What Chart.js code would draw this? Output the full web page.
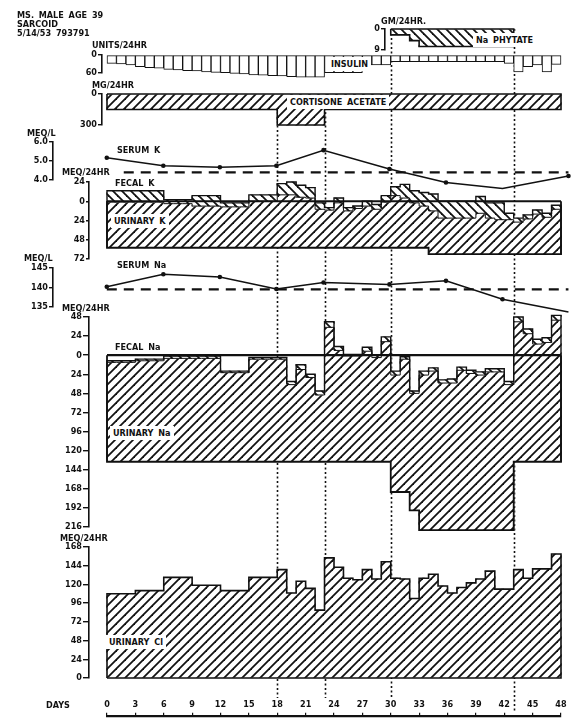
<!DOCTYPE html>
<html>
<head>
<meta charset="utf-8">
<script src="https://cdn.jsdelivr.net/npm/chart.js@4.4.1/dist/chart.umd.min.js"></script>
<style>
  body { margin: 0; background: #fff; }
  #page { position: relative; width: 571px; height: 719px; overflow: hidden; background: #fff; }
  #page canvas { position: absolute; left: 0; }
  .lbl {
    position: absolute; white-space: nowrap; line-height: 1; color: #111;
    font: bold 9px 'Liberation Sans Narrow', 'DejaVu Sans Condensed', sans-serif;
    word-spacing: 2px; transform: translateY(-50%);
  }
  .box { background: #fff; padding: 2px 3px; }
</style>
</head>
<body>
<div id="page"></div>
<script>
// ---- data ----
const DAYS = 48;
const dayTicks = [0, 3, 6, 9, 12, 15, 18, 21, 24, 27, 30, 33, 36, 39, 42, 45, 48];
const eventDays = [18, 23, 30, 43];

// insulin, units/24hr
const insulin = [28, 30, 33, 39, 42, 44, 48, 50, 52, 53, 56, 58, 59, 61, 63, 66, 67, 69, 70, 72, 74, 74, 74,
  59, 59, 59, 59, 33, 33, 33, 22, 22, 22, 22, 22, 22, 22, 22, 22, 22, 22, 22, 28, 56, 39, 33, 56, 31];
// cortisone acetate, mg/24hr
const cortisone = [150, 150, 150, 150, 150, 150, 150, 150, 150, 150, 150, 150, 150, 150, 150, 150, 150, 150,
  300, 300, 300, 300, 300,
  150, 150, 150, 150, 150, 150, 150, 150, 150, 150, 150, 150, 150, 150, 150, 150, 150, 150, 150, 150, 150, 150, 150, 150, 150];
// Na phytate, gm/24hr, days 30-42
const phytateStart = 30;
const phytate = [2.5, 2.5, 5, 7.5, 7.5, 7.5, 7.5, 7.5, 7.5, 7.5, 7.5, 7.5, 7.5];

// serum values, mEq/L
const serumDays = [0, 6, 12, 18, 23, 30, 36, 42, 49];
const serumK = [5.17, 4.75, 4.67, 4.75, 5.57, 4.58, 3.87, 3.55, 4.21];
const serumNa = [140.2, 143.4, 142.7, 139.6, 141.3, 140.8, 141.7, 137.0, 133.7];
const normalK = 4.4;
const normalNa = 139.5;

// potassium balance, mEq/24hr
const kIntake = [58, 58, 58, 58, 58, 58, 58, 58, 58, 58, 58, 58, 58, 58, 58, 58, 58, 58, 58, 58, 58, 58, 58, 58,
  58, 58, 58, 58, 58, 58, 58, 58, 58, 58, 66, 66, 66, 66, 66, 66, 66, 66, 66, 66, 66, 66, 66, 66];
const kUrinary = [57, 57, 57, 57, 57, 57, 55, 55, 55, 52, 52, 52, 51, 51, 51, 58, 58, 58,
  66, 66, 63, 62, 48, 47, 56, 46, 49, 52, 48, 57, 65, 62, 56, 52,
  54, 45, 45, 45, 45, 51, 45, 43, 43, 40, 44, 50, 46, 56];
const kFecal = [14, 14, 14, 14, 14, 14, 5, 5, 5, 13, 13, 13, 5, 5, 5, 8, 8, 8,
  14, 16, 15, 13, 8, 3, 6, 4, 3, 6, 6, 8, 11, 17, 15, 17,
  21, 21, 21, 21, 21, 21, 19, 21, 8, 5, 5, 5, 5, 5];

// sodium balance, mEq/24hr
const naIntake = [134, 134, 134, 134, 134, 134, 134, 134, 134, 134, 134, 134, 134, 134, 134, 134, 134, 134, 134, 134,
  134, 134, 134, 134, 134, 134, 134, 134, 134, 134, 172, 172, 195,
  220, 220, 220, 220, 220, 220, 220, 220, 220, 220, 134, 134, 134, 134, 134];
const naUrinary = [125, 125, 125, 127, 127, 127, 130, 130, 130, 130, 130, 130, 112, 112, 112, 129, 129, 129, 129,
  97, 116, 106, 84, 169, 140, 133, 133, 139, 131, 151, 147, 167, 147, 195, 200, 185, 185, 201, 197, 195, 199, 199, 183,
  176, 161, 148, 150, 178];
const naFecal = [2, 2, 2, 2, 2, 2, 3, 3, 3, 3, 3, 3, 2, 2, 2, 2, 2, 2, 2,
  4, 6, 4, 5, 7, 5, 2, 2, 5, 3, 6, 5, 3, 3, 5, 4, 4, 5, 4, 4, 4, 4, 4, 4,
  6, 6, 6, 6, 6];

// urinary chloride, mEq/24hr
const clUrinary = [108, 108, 108, 112, 112, 112, 129, 129, 129, 119, 119, 119, 112, 112, 112, 129, 129, 129,
  139, 109, 124, 115, 87, 154, 142, 128, 126, 139, 127, 149, 128, 127, 102, 128, 133, 118, 109, 116, 122, 127, 137,
  114, 114, 139, 128, 140, 140, 159];

// ---- layout ----
const INK = '#111';
const FONT = { family: "'Liberation Sans Narrow', 'DejaVu Sans Condensed', sans-serif", size: 9, weight: 'bold' };
const W = 571, H = 719;
const X0 = 107, X48 = 561, RIGHT = 569;
const PPD = (X48 - X0) / DAYS;
const page = document.getElementById('page');

function hatch(back) {
  const s = 9, c = document.createElement('canvas');
  c.width = s; c.height = s;
  const g = c.getContext('2d');
  g.fillStyle = '#fff'; g.fillRect(0, 0, s, s);
  g.strokeStyle = INK; g.lineWidth = 1.8; g.lineCap = 'square';
  const segs = back
    ? [[0, 0, s, s], [-1, s - 1, 1, s + 1], [s - 1, -1, s + 1, 1]]
    : [[0, s, s, 0], [-1, 1, 1, -1], [s - 1, s + 1, s + 1, s - 1]];
  segs.forEach(([a, b, c2, d]) => { g.beginPath(); g.moveTo(a, b); g.lineTo(c2, d); g.stroke(); });
  return g.createPattern(c, 'repeat');
}
const FWD = hatch(false), BACK = hatch(true);

function steps(vals, y0, y1, start = 0) {
  const pts = [];
  if (y0 !== undefined) pts.push({ x: start, y: y0 });
  vals.forEach((v, i) => pts.push({ x: start + i, y: v }));
  pts.push({ x: start + vals.length, y: vals[vals.length - 1] });
  if (y1 !== undefined) pts.push({ x: start + vals.length, y: y1 });
  return pts;
}
const closed = (vals, start = 0) => steps(vals, 0, 0, start).concat([{ x: start, y: 0 }]);

const outline = (data, width, order, dash) => ({
  type: 'line', data, stepped: true, borderColor: INK, borderWidth: width, pointRadius: 0,
  fill: false, order, clip: false, borderDash: dash || []
});
const bars = (data, fill, order, extra) => Object.assign({
  type: 'bar', data, backgroundColor: fill, borderWidth: 0, barThickness: PPD + 0.6,
  grouped: false, order, clip: false
}, extra || {});
const plain = (arr, start = 0) => arr.map((v, i) => ({ x: start + i + 0.5, y: v }));

function makeCanvas(top, height) {
  const cv = document.createElement('canvas');
  cv.width = W; cv.height = height;
  cv.style.top = top + 'px';
  page.appendChild(cv);
  return cv;
}

function panel(cfg) {
  const pad = 14;
  const cv = makeCanvas(cfg.top - pad, cfg.bottom - cfg.top + 2 * pad);
  return new Chart(cv, {
    type: 'bar',
    data: { datasets: cfg.datasets },
    options: {
      responsive: false, animation: false, events: [],
      layout: { padding: { left: 0, right: W - RIGHT, top: pad, bottom: pad } },
      plugins: { legend: { display: false }, tooltip: { enabled: false } },
      scales: {
        x: { type: 'linear', display: false, offset: false,
             min: -(X0 - cfg.axisX) / PPD, max: (RIGHT - X0) / PPD },
        y: {
          type: 'linear', min: cfg.min, max: cfg.max, reverse: !!cfg.reverse,
          afterFit: s => { s.width = cfg.axisX; },
          afterBuildTicks: s => { s.ticks = cfg.ticks.map(v => ({ value: v })); },
          border: { display: true, color: INK, width: 1.6 },
          grid: { drawOnChartArea: false, drawTicks: true, tickLength: cfg.tickLen || 4, color: INK, lineWidth: 1.4 },
          ticks: { color: INK, font: FONT, padding: 1,
                   callback: v => cfg.fmt ? cfg.fmt(v) : String(Math.abs(v)) }
        }
      }
    }
  });
}

function balance(intake, urinary, fecal, fecalFill) {
  const uTop = intake.map((v, i) => v - urinary[i]);
  const fTop = uTop.map((v, i) => v - fecal[i]);
  return [
    outline([{ x: 0, y: 0 }, { x: DAYS, y: 0 }], 2.2, 0),
    outline(steps(fTop, intake[0], intake[DAYS - 1]), 1.4, 1),
    outline(steps(uTop), 1, 2),
    outline(steps(intake, 0, 0), 1.8, 3),
    bars(intake.map((v, i) => ({ x: i + 0.5, y: [fTop[i], uTop[i]] })), fecalFill, 4),
    bars(intake.map((v, i) => ({ x: i + 0.5, y: [uTop[i], v] })), FWD, 5)
  ];
}

// dotted event lines, behind everything
const EVENT_SPAN = { 18: [94, 698], 23: [94, 698], 30: [29, 698], 43: [29, 713] };
new Chart(makeCanvas(0, H), {
  type: 'line',
  data: { datasets: [] },
  options: {
    responsive: false, animation: false, events: [],
    layout: { padding: 0 },
    plugins: { legend: { display: false }, tooltip: { enabled: false } },
    scales: {
      x: { type: 'linear', display: false, min: -X0 / PPD, max: (W - X0) / PPD },
      y: { display: false, min: 0, max: 1 }
    }
  },
  plugins: [{
    id: 'eventLines',
    afterDraw(chart) {
      const { ctx, scales: { x } } = chart;
      ctx.save();
      ctx.strokeStyle = INK; ctx.lineWidth = 1.6; ctx.setLineDash([2, 2.5]);
      eventDays.forEach(d => {
        const px = Math.round(x.getPixelForValue(d)) + 0.5;
        const [t, b] = EVENT_SPAN[d];
        ctx.beginPath(); ctx.moveTo(px, t); ctx.lineTo(px, b); ctx.stroke();
      });
      ctx.restore();
    }
  }]
});

// insulin
panel({
  top: 55, bottom: 73, axisX: 102, min: 0, max: 60, reverse: true, ticks: [0, 60],
  datasets: [bars(plain(insulin), '#fff', 1,
    { borderWidth: 1, borderColor: INK, borderSkipped: false, barThickness: PPD })]
});

// cortisone acetate
panel({
  top: 94, bottom: 125, axisX: 102, min: 0, max: 300, reverse: true, ticks: [0, 300],
  datasets: [outline(closed(cortisone), 1.6, 0), bars(plain(cortisone), FWD, 1)]
});

// Na phytate
panel({
  top: 29, bottom: 50, axisX: 385, min: 0, max: 9, reverse: true, ticks: [0, 9],
  datasets: [outline(closed(phytate, phytateStart), 1.6, 0), bars(plain(phytate, phytateStart), BACK, 1)]
});

// serum K
panel({
  top: 142, bottom: 180, axisX: 53, min: 4, max: 6, ticks: [4, 5, 6], fmt: v => v.toFixed(1),
  datasets: [
    { type: 'line', data: serumDays.map((d, i) => ({ x: d, y: serumK[i] })), borderColor: INK, borderWidth: 1.5,
      pointRadius: 2.3, pointBackgroundColor: INK, pointBorderWidth: 0, clip: false, order: 0 },
    { type: 'line', data: [{ x: 1.8, y: normalK }, { x: 49, y: normalK }], borderColor: INK, borderWidth: 2.2,
      borderDash: [10, 7], pointRadius: 0, clip: false, order: 1 }
  ]
});

// K balance
panel({
  top: 182, bottom: 259, axisX: 89, min: -24, max: 72, reverse: true, ticks: [-24, 0, 24, 48, 72], tickLen: 3,
  datasets: balance(kIntake, kUrinary, kFecal, BACK)
});

// serum Na
panel({
  top: 268, bottom: 307, axisX: 53, min: 135, max: 145, ticks: [135, 140, 145],
  datasets: [
    { type: 'line', data: serumDays.map((d, i) => ({ x: d, y: serumNa[i] })), borderColor: INK, borderWidth: 1.5,
      pointRadius: 2.3, pointBackgroundColor: INK, pointBorderWidth: 0, clip: false, order: 0 },
    { type: 'line', data: [{ x: 0, y: normalNa }, { x: 49, y: normalNa }], borderColor: INK, borderWidth: 2.2,
      borderDash: [10, 7], pointRadius: 0, clip: false, order: 1 }
  ]
});

// Na balance
panel({
  top: 317, bottom: 527, axisX: 89, min: -48, max: 216, reverse: true, tickLen: 6,
  ticks: [-48, -24, 0, 24, 48, 72, 96, 120, 144, 168, 192, 216],
  datasets: balance(naIntake, naUrinary, naFecal, BACK)
});

// urinary Cl
panel({
  top: 547, bottom: 678, axisX: 89, min: 0, max: 168, tickLen: 6,
  ticks: [0, 24, 48, 72, 96, 120, 144, 168],
  datasets: [outline(closed(clUrinary), 1.6, 0), bars(plain(clUrinary), FWD, 1)]
});

// days axis (canvas runs past the page bottom so the axis box gets enough height)
new Chart(makeCanvas(684, 80), {
  type: 'line',
  data: { datasets: [] },
  options: {
    responsive: false, animation: false, events: [],
    layout: { padding: { left: X0, right: W - X48, top: 12, bottom: 0 } },
    plugins: { legend: { display: false }, tooltip: { enabled: false } },
    scales: {
      x: {
        type: 'linear', position: 'top', min: 0, max: DAYS, offset: false,
        afterBuildTicks: s => { s.ticks = dayTicks.map(v => ({ value: v })); },
        border: { display: true, color: INK, width: 2.2 },
        grid: { drawOnChartArea: false, drawTicks: true, tickLength: 3, color: INK, lineWidth: 1.2 },
        ticks: { color: INK, font: FONT, padding: 3, maxRotation: 0, autoSkip: false }
      },
      y: { display: false, min: 0, max: 1 }
    }
  }
});

// ---- text ----
const LABELS = [
  ['MS. MALE AGE 39', 17, 15], ['SARCOID', 17, 24], ['5/14/53 793791', 17, 33],
  ['UNITS/24HR', 92, 45], ['MG/24HR', 92, 85], ['GM/24HR.', 381, 21],
  ['MEQ/L', 27, 133], ['SERUM K', 117, 150], ['MEQ/24HR', 62, 172], ['FECAL K', 115, 183],
  ['URINARY K', 114, 221, true],
  ['MEQ/L', 24, 258], ['SERUM Na', 117, 265], ['MEQ/24HR', 62, 308],
  ['FECAL Na', 115, 347], ['URINARY Na', 113, 433, true],
  ['MEQ/24HR', 60, 538], ['URINARY Cl', 109, 642, true], ['DAYS', 46, 705],
  ['INSULIN', 331, 64, true], ['CORTISONE ACETATE', 290, 102, true], ['Na PHYTATE', 476, 40, true]
];
LABELS.forEach(([t, x, y, boxed]) => {
  const d = document.createElement('div');
  d.className = 'lbl' + (boxed ? ' box' : '');
  d.textContent = t;
  d.style.left = (boxed ? x - 3 : x) + 'px';
  d.style.top = y + 'px';
  page.appendChild(d);
});
</script>
</body>
</html>
